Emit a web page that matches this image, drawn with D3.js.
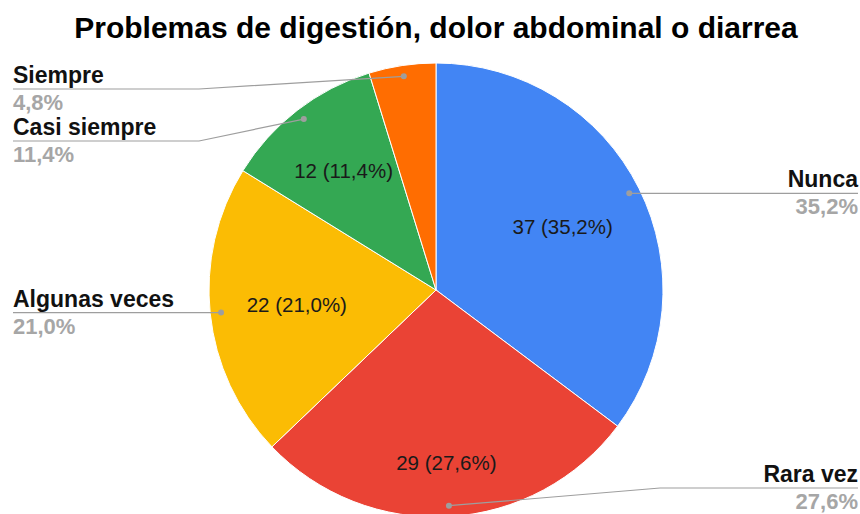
<!DOCTYPE html>
<html lang="es">
<head>
<meta charset="utf-8">
<title>Problemas de digestión</title>
<script src="https://cdn.jsdelivr.net/npm/d3@7"></script>
<style>
  body { margin: 0; background: #fff; }
  text { font-family: "Liberation Sans", Arial, sans-serif; }
</style>
</head>
<body>
<script>
// data
var titleText = "Problemas de digestión, dolor abdominal o diarrea";
var categories = ["Nunca", "Rara vez", "Algunas veces", "Casi siempre", "Siempre"];
var counts = [37, 29, 22, 12, 5];
var colors = ["#4285f4", "#ea4335", "#fbbc04", "#34a853", "#ff6d01"];

var w = 860, h = 514;
var cx = 436, cy = 290, r = 227;

var total = d3.sum(counts);
var fmt = function(v) { return (v / total * 100).toFixed(1).replace(".", ",") + "%"; };

var data = categories.map(function(c, i) { return {name: c, value: counts[i], color: colors[i]}; });

var svg = d3.select("body").append("svg")
  .attr("width", w)
  .attr("height", h);

svg.append("text")
  .attr("x", cx)
  .attr("y", 38)
  .attr("text-anchor", "middle")
  .attr("font-size", 30)
  .attr("font-weight", "bold")
  .attr("fill", "#000")
  .text(titleText);

var pie = d3.pie().sort(null).value(function(d) { return d.value; });
var arcs = pie(data);
var arc = d3.arc().innerRadius(0).outerRadius(r);

var g = svg.append("g").attr("transform", "translate(" + cx + "," + cy + ")");

g.selectAll("path.slice")
  .data(arcs)
  .enter()
  .append("path")
  .attr("class", "slice")
  .attr("d", arc)
  .attr("fill", function(d) { return d.data.color; })
  .attr("stroke", "#fff")
  .attr("stroke-width", 1);

// inner labels (skipped for slices too thin to hold them),
// pushed out along the mid angle until the text box reaches ~0.84r
var inner = g.selectAll("text.inner")
  .data(arcs.filter(function(d) { return d.data.value / total >= 0.08; }))
  .enter()
  .append("text")
  .attr("class", "inner")
  .attr("font-size", 20.5)
  .attr("fill", "#1a1a1a")
  .attr("text-anchor", "middle")
  .text(function(d) { return d.data.value + " (" + fmt(d.data.value) + ")"; });

inner.each(function(d) {
  var bw = this.getComputedTextLength(), bh = 16;
  var a = (d.startAngle + d.endAngle) / 2;
  var ux = Math.sin(a), uy = -Math.cos(a);
  var lo = 0, hi = r;
  for (var k = 0; k < 40; k++) {
    var t = (lo + hi) / 2;
    var px = ux * t, py = uy * t;
    var far = 0;
    [[-1, -1], [1, -1], [-1, 1], [1, 1]].forEach(function(s) {
      var dx = px + s[0] * bw / 2, dy = py + s[1] * bh / 2;
      far = Math.max(far, Math.sqrt(dx * dx + dy * dy));
    });
    if (far < r * 0.84) lo = t; else hi = t;
  }
  d3.select(this)
    .attr("x", ux * lo)
    .attr("y", uy * lo + 7);
});

// outside labels with leader lines
var dotR = r * 0.952;
var labels = arcs.map(function(d) {
  var a = (d.startAngle + d.endAngle) / 2;
  var px = cx + Math.sin(a) * dotR, py = cy - Math.cos(a) * dotR;
  return {d: d, px: px, py: py, side: Math.sin(a) >= 0 ? "right" : "left",
          ly: Math.max(89, Math.min(h - 26, py))};
});

["left", "right"].forEach(function(side) {
  var list = labels.filter(function(l) { return l.side === side; })
    .sort(function(a, b) { return a.py - b.py; });
  for (var i = 1; i < list.length; i++) {
    if (list[i].ly - list[i - 1].ly < 52) list[i].ly = list[i - 1].ly + 52;
  }
});

var lab = svg.selectAll("g.label")
  .data(labels)
  .enter()
  .append("g")
  .attr("class", "label");

lab.append("path")
  .attr("fill", "none")
  .attr("stroke", "#9e9e9e")
  .attr("stroke-width", 1.2)
  .attr("d", function(l) {
    if (l.side === "left") {
      var bx = Math.min(cx - r - 10, l.px);
      return "M13," + l.ly + "L" + bx + "," + l.ly + "L" + l.px + "," + l.py;
    }
    var bx2 = Math.max(cx + r - 3, l.px);
    return "M" + (w - 2) + "," + l.ly + "L" + bx2 + "," + l.ly + "L" + l.px + "," + l.py;
  });

lab.append("circle")
  .attr("cx", function(l) { return l.px; })
  .attr("cy", function(l) { return l.py; })
  .attr("r", 3)
  .attr("fill", "#9e9e9e");

lab.append("text")
  .attr("x", function(l) { return l.side === "left" ? 13 : w - 2; })
  .attr("y", function(l) { return l.ly - 6; })
  .attr("text-anchor", function(l) { return l.side === "left" ? "start" : "end"; })
  .attr("font-size", 23)
  .attr("font-weight", "bold")
  .attr("fill", "#111")
  .text(function(l) { return l.d.data.name; });

lab.append("text")
  .attr("x", function(l) { return l.side === "left" ? 13 : w - 2; })
  .attr("y", function(l) { return l.ly + 21; })
  .attr("text-anchor", function(l) { return l.side === "left" ? "start" : "end"; })
  .attr("font-size", 22)
  .attr("font-weight", "bold")
  .attr("fill", "#a6a6a6")
  .text(function(l) { return fmt(l.d.data.value); });
</script>
</body>
</html>
